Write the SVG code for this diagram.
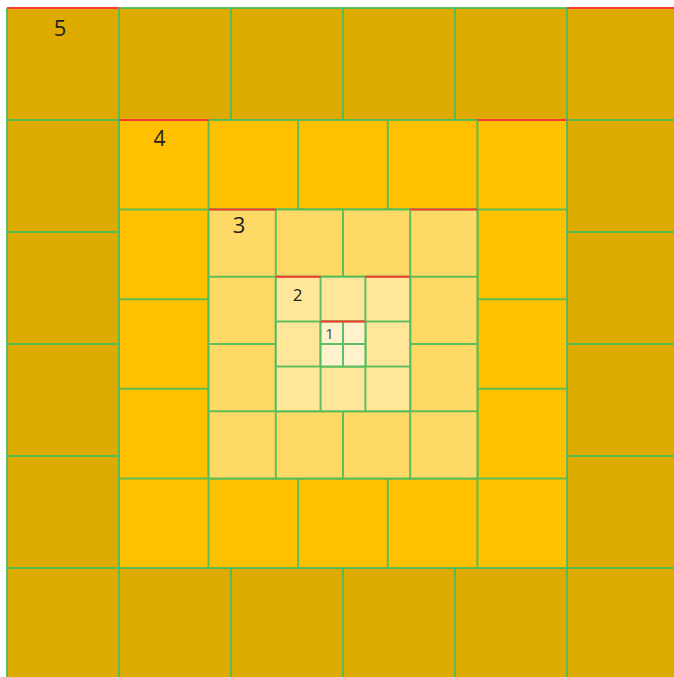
<svg xmlns="http://www.w3.org/2000/svg" width="674" height="677" viewBox="0 0 674 677">
<style>
.g{fill:none;stroke:#4cbb5a;stroke-width:2;stroke-opacity:0.9}
.r{stroke:#ff3b2f;stroke-width:2;fill:none}
.t{font-family:"Open Sans","DejaVu Sans",sans-serif;fill:#222;text-anchor:middle}
</style>
<rect width="674" height="677" fill="#ffffff"/>
<g id="ring5">
<rect x="7" y="8" width="672" height="672" fill="#ddaa00"/>
<path class="g" d="M7,8V680M119,8V680M231,8V680M343,8V680M455,8V680M567,8V680M7,8H679M7,120H679M7,232H679M7,344H679M7,456H679M7,568H679"/>
<path class="r" d="M7,8H119M567,8H679"/>
<text class="t" x="60" y="36" font-size="22">5</text>
</g>
<g id="ring4">
<rect x="119" y="120" width="448" height="448" fill="#ffc000"/>
<path class="g" d="M119,120V568M208.6,120V568M298.2,120V568M387.8,120V568M477.4,120V568M567,120V568M119,120H567M119,209.6H567M119,299.2H567M119,388.8H567M119,478.4H567M119,568H567"/>
<path class="r" d="M119,120H208.6M477.4,120H567"/>
<text class="t" x="159.5" y="146" font-size="21">4</text>
</g>
<g id="ring3">
<rect x="208.6" y="209.6" width="268.8" height="268.8" fill="#ffd966"/>
<path class="g" d="M208.6,209.6V478.4M275.8,209.6V478.4M343,209.6V478.4M410.2,209.6V478.4M477.4,209.6V478.4M208.6,209.6H477.4M208.6,276.8H477.4M208.6,344H477.4M208.6,411.2H477.4M208.6,478.4H477.4"/>
<path class="r" d="M208.6,209.6H275.8M410.2,209.6H477.4"/>
<text class="t" x="239" y="233" font-size="22">3</text>
</g>
<g id="ring2">
<rect x="275.8" y="276.8" width="134.4" height="134.4" fill="#ffe699"/>
<path class="g" d="M275.8,276.8V411.2M320.6,276.8V411.2M365.4,276.8V411.2M410.2,276.8V411.2M275.8,276.8H410.2M275.8,321.6H410.2M275.8,366.4H410.2M275.8,411.2H410.2"/>
<path class="r" d="M275.8,276.8H320.6M365.4,276.8H410.2"/>
<text class="t" x="297.5" y="301" font-size="17">2</text>
</g>
<g id="ring1">
<rect x="320.6" y="321.6" width="44.8" height="44.8" fill="#fff2cc"/>
<path class="g" d="M320.6,321.6V366.4M343,321.6V366.4M365.4,321.6V366.4M320.6,321.6H365.4M320.6,344H365.4M320.6,366.4H365.4"/>
<path class="r" d="M320.6,321.6H343M343,321.6H365.4"/>
<text class="t" x="329.5" y="339" font-size="15" fill="#444" style="fill:#444">1</text>
</g>
<g id="connectors"/>
</svg>
